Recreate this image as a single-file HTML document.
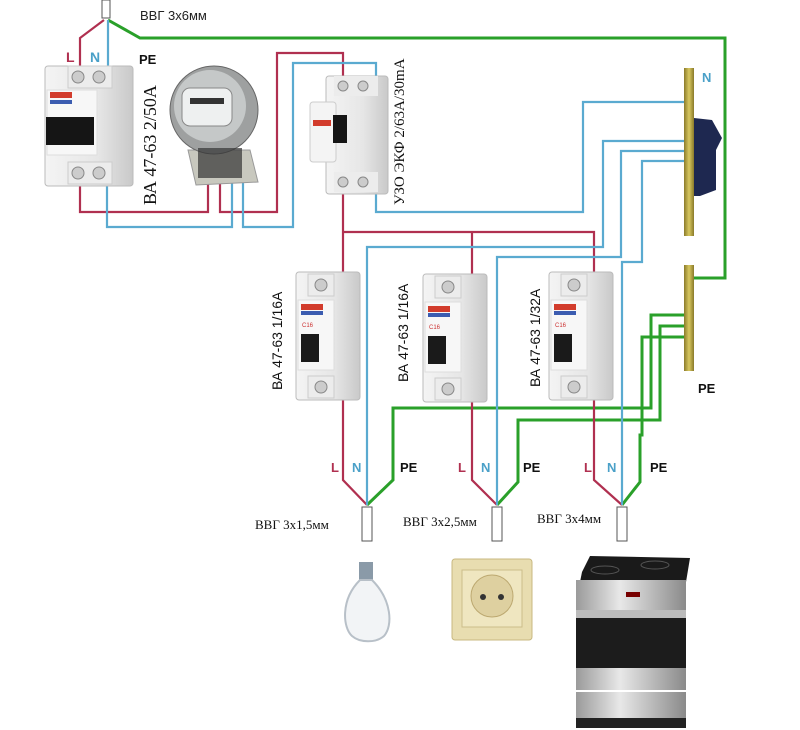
<!DOCTYPE html>
<html><head><meta charset="utf-8"><style>
html,body{margin:0;padding:0;background:#fff;}
svg{display:block;}
.s{font-family:"Liberation Sans",sans-serif;}
.t{font-family:"Liberation Serif",serif;}
</style></head><body>
<svg width="800" height="730" viewBox="0 0 800 730" xmlns="http://www.w3.org/2000/svg">
<defs>
<linearGradient id="g1" x1="0" x2="1"><stop offset="0" stop-color="#f4f4f4"/><stop offset="0.6" stop-color="#e6e6e6"/><stop offset="1" stop-color="#c9c9c9"/></linearGradient>
<linearGradient id="bus" x1="0" x2="1"><stop offset="0" stop-color="#8a7a2a"/><stop offset="0.5" stop-color="#d8c860"/><stop offset="1" stop-color="#8a7a2a"/></linearGradient>
<linearGradient id="steel" x1="0" x2="1"><stop offset="0" stop-color="#9a9a9a"/><stop offset="0.4" stop-color="#e8e8e8"/><stop offset="1" stop-color="#8a8a8a"/></linearGradient>
<g id="br1">
 <rect x="0" y="0" width="64" height="128" rx="3" fill="url(#g1)" stroke="#bbb"/>
 <rect x="12" y="2" width="26" height="22" fill="#ececec" stroke="#ccc"/>
 <circle cx="25" cy="13" r="6" fill="#ccc" stroke="#888"/>
 <rect x="12" y="104" width="26" height="22" fill="#ececec" stroke="#ccc"/>
 <circle cx="25" cy="115" r="6" fill="#ccc" stroke="#888"/>
 <rect x="2" y="28" width="36" height="70" fill="#f7f7f7" stroke="#ddd"/>
 <rect x="5" y="32" width="22" height="6" fill="#d23c2c"/>
 <rect x="5" y="39" width="22" height="4" fill="#3b5cb0"/>
 <text x="6" y="55" font-size="6" fill="#c33" class="s">C16</text>
 <rect x="5" y="62" width="18" height="28" fill="#1a1a1a"/>
</g>
</defs>

<!-- wires: green -->
<g fill="none" stroke="#2aa02a" stroke-width="3">
 <polyline points="108,20 140,38 725,38 725,278 692,278"/>
 <polyline points="688,315 651,315 651,408 393,408 393,480 367,505"/>
 <polyline points="688,326 660,326 660,420 518,420 518,482 497,505"/>
 <polyline points="688,337 642,337 642,435 640,435 640,482 622,505"/>
</g>
<!-- red -->
<g fill="none" stroke="#b03050" stroke-width="2.2">
 <polyline points="104,20 80,38 80,68"/>
 <polyline points="80,185 80,212 208,212 208,183"/>
 <polyline points="220,183 220,212 277,212 277,53 343,53 343,78"/>
 <polyline points="343,192 343,480 367,505"/>
 <polyline points="343,232 594,232 594,480 622,505"/>
 <polyline points="472,232 472,480 497,505"/>
</g>
<!-- blue -->
<g fill="none" stroke="#5aaad0" stroke-width="2.2">
 <polyline points="108,20 108,68"/>
 <polyline points="107,185 107,227 232,227 232,183"/>
 <polyline points="243,183 243,227 293,227 293,63 376,63 376,78"/>
 <polyline points="376,192 376,212 583,212 583,102 686,102"/>
 <polyline points="686,141 603,141 603,247 367,247 367,505"/>
 <polyline points="686,151 621,151 621,257 497,257 497,505"/>
 <polyline points="686,161 642,161 642,262 622,262 622,505"/>
</g>

<!-- top cable -->
<rect x="102" y="0" width="8" height="18" fill="#fff" stroke="#555"/>

<!-- 2-pole breaker -->
<g>
 <rect x="45" y="66" width="88" height="120" rx="3" fill="url(#g1)" stroke="#bbb"/>
 <rect x="68" y="66" width="44" height="22" fill="#ececec" stroke="#ccc"/>
 <circle cx="78" cy="77" r="6" fill="#ccc" stroke="#888"/><circle cx="99" cy="77" r="6" fill="#ccc" stroke="#888"/>
 <rect x="68" y="162" width="44" height="22" fill="#ececec" stroke="#ccc"/>
 <circle cx="78" cy="173" r="6" fill="#ccc" stroke="#888"/><circle cx="99" cy="173" r="6" fill="#ccc" stroke="#888"/>
 <rect x="47" y="90" width="50" height="65" fill="#f7f7f7" stroke="#ddd"/>
 <rect x="50" y="92" width="22" height="6" fill="#d23c2c"/>
 <rect x="50" y="100" width="22" height="4" fill="#3b5cb0"/>
 <rect x="46" y="117" width="48" height="28" fill="#151515"/>
</g>
<!-- meter -->
<g>
 <path d="M188,150 L250,150 L258,182 L196,185 Z" fill="#c8c8be" stroke="#999"/>
 <circle cx="214" cy="110" r="44" fill="#9ea0a0" stroke="#666"/>
 <circle cx="210" cy="106" r="36" fill="#c5c8c8"/>
 <rect x="182" y="88" width="50" height="38" rx="8" fill="#eef0f0" stroke="#888"/>
 <rect x="190" y="98" width="34" height="6" fill="#333"/>
 <rect x="198" y="148" width="44" height="30" fill="#333" opacity="0.7"/>
</g>
<!-- RCD -->
<g>
 <rect x="326" y="76" width="62" height="118" rx="3" fill="url(#g1)" stroke="#bbb"/>
 <rect x="334" y="76" width="44" height="20" fill="#ececec"/>
 <circle cx="343" cy="86" r="5" fill="#ccc" stroke="#888"/><circle cx="363" cy="86" r="5" fill="#ccc" stroke="#888"/>
 <rect x="334" y="172" width="44" height="20" fill="#ececec"/>
 <circle cx="343" cy="182" r="5" fill="#ccc" stroke="#888"/><circle cx="363" cy="182" r="5" fill="#ccc" stroke="#888"/>
 <rect x="310" y="102" width="26" height="60" rx="3" fill="#f4f4f4" stroke="#ccc"/>
 <rect x="313" y="120" width="18" height="6" fill="#d23c2c"/>
 <rect x="333" y="115" width="14" height="28" fill="#151515"/>
</g>

<!-- 1P breakers -->
<use href="#br1" x="296" y="272"/>
<use href="#br1" x="423" y="274"/>
<use href="#br1" x="549" y="272"/>

<!-- buses -->
<rect x="684" y="68" width="10" height="168" fill="url(#bus)"/>
<path d="M694,118 L712,120 L722,138 L716,150 L716,190 L700,196 L694,196 Z" fill="#1e2850"/>
<rect x="684" y="265" width="10" height="106" fill="url(#bus)"/>

<!-- cables -->
<rect x="362" y="507" width="10" height="34" fill="#fff" stroke="#555"/>
<rect x="492" y="507" width="10" height="34" fill="#fff" stroke="#555"/>
<rect x="617" y="507" width="10" height="34" fill="#fff" stroke="#555"/>

<!-- bulb -->
<g>
 <rect x="359" y="562" width="14" height="18" fill="#8a9aa8"/>
 <path d="M360,580 C340,600 343,628 352,636 C360,643 376,643 384,636 C393,626 392,600 372,580 Z" fill="#f2f4f6" stroke="#b8c0c8" stroke-width="2"/>
</g>
<!-- socket -->
<g>
 <rect x="452" y="559" width="80" height="81" rx="3" fill="#e8ddb0" stroke="#c8b880"/>
 <rect x="462" y="570" width="60" height="57" fill="#efe6c0" stroke="#cbbd8a"/>
 <circle cx="492" cy="596" r="21" fill="#ded0a0" stroke="#bca870"/>
 <circle cx="483" cy="597" r="3" fill="#333"/><circle cx="501" cy="597" r="3" fill="#333"/>
</g>
<!-- stove -->
<g>
 <path d="M582,572 L590,556 L690,558 L686,582 L580,582 Z" fill="#1a1a1a"/>
 <ellipse cx="605" cy="570" rx="14" ry="4" fill="none" stroke="#555"/>
 <ellipse cx="655" cy="565" rx="14" ry="4" fill="none" stroke="#555"/>
 <rect x="576" y="580" width="110" height="30" fill="url(#steel)"/>
 <rect x="626" y="592" width="14" height="5" fill="#700"/>
 <rect x="576" y="610" width="110" height="60" fill="#1c1c1c"/>
 <rect x="576" y="610" width="110" height="8" fill="#bbb"/>
 <rect x="576" y="668" width="110" height="22" fill="url(#steel)"/>
 <rect x="576" y="692" width="110" height="26" fill="url(#steel)"/>
 <rect x="576" y="718" width="110" height="10" fill="#222"/>
</g>

<!-- labels -->
<text x="140" y="20" font-size="13" class="s" fill="#222">ВВГ 3х6мм</text>
<text x="66" y="62" font-size="14" class="s" font-weight="bold" fill="#b03050">L</text>
<text x="90" y="62" font-size="14" class="s" font-weight="bold" fill="#4aa0c8">N</text>
<text x="139" y="64" font-size="13" class="s" font-weight="bold" fill="#111">PE</text>
<text transform="translate(156,205) rotate(-90)" font-size="18" class="t" fill="#111">ВА 47-63 2/50А</text>
<text transform="translate(404,205) rotate(-90)" font-size="15" class="t" fill="#111">УЗО ЭКФ 2/63А/30mA</text>
<text x="702" y="82" font-size="13" class="s" font-weight="bold" fill="#4aa0c8">N</text>
<text x="698" y="393" font-size="13" class="s" font-weight="bold" fill="#111">PE</text>
<text transform="translate(282,390) rotate(-90)" font-size="14" class="s" fill="#111">ВА 47-63 1/16А</text>
<text transform="translate(408,382) rotate(-90)" font-size="14" class="s" fill="#111">ВА 47-63 1/16А</text>
<text transform="translate(540,387) rotate(-90)" font-size="14" class="s" fill="#111">ВА 47-63 1/32А</text>
<g font-size="13" class="s" font-weight="bold">
 <text x="331" y="472" fill="#b03050">L</text><text x="352" y="472" fill="#4aa0c8">N</text><text x="400" y="472" fill="#111">PE</text>
 <text x="458" y="472" fill="#b03050">L</text><text x="481" y="472" fill="#4aa0c8">N</text><text x="523" y="472" fill="#111">PE</text>
 <text x="584" y="472" fill="#b03050">L</text><text x="607" y="472" fill="#4aa0c8">N</text><text x="650" y="472" fill="#111">PE</text>
</g>
<text x="255" y="529" font-size="13" class="t" fill="#111">ВВГ 3х1,5мм</text>
<text x="403" y="526" font-size="13" class="t" fill="#111">ВВГ 3х2,5мм</text>
<text x="537" y="523" font-size="13" class="t" fill="#111">ВВГ 3х4мм</text>
</svg>
</body></html>
